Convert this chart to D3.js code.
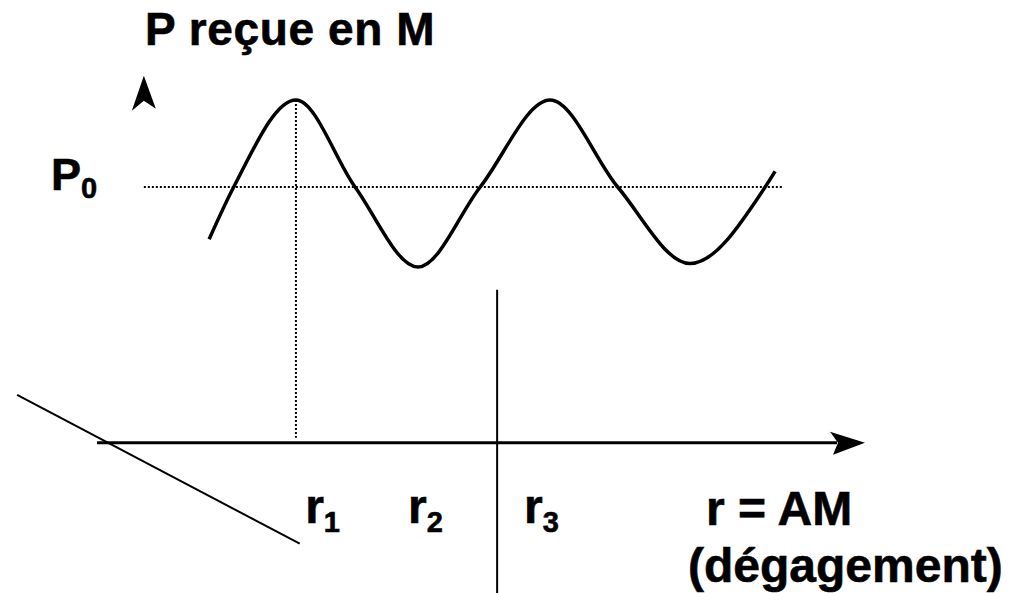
<!DOCTYPE html>
<html>
<head>
<meta charset="utf-8">
<script src="https://cdn.jsdelivr.net/npm/d3@7"></script>
<style>
  body { margin: 0; background: #fff; }
  svg { display: block; }
  text { font-family: "Liberation Sans", Arial, sans-serif; font-weight: bold; fill: #000; stroke: #000; stroke-width: 0.6px; }
</style>
</head>
<body>
<svg id="chart" width="1019" height="593"></svg>
<script>
// curve of received power along r (schematic units)
var curveR = [1.46, 1.78, 2.59, 3.36, 4.18, 4.99, 5.90, 6.78, 7.72, 8.70, 8.83];
var curveP = [0.70, 1.00, 1.50, 1.00, 0.54, 1.00, 1.50, 1.00, 0.56, 1.00, 1.09];

var p0 = 1.0;
var p0Range = [0.61, 8.93];
var rAxisP = -0.47;
var rAxisRange = [0, 10];
var r1 = 2.59;
var r3Line = 5.21;
var r3LineTop = 0.41;
var yArrowR = 0.61, yArrowP = 1.64;
var slantR = [-1.04, 2.64];
var slantP = [-0.195, -1.05];

var rLabels = [
  { name: "r", sub: "1", r: 2.71 },
  { name: "r", sub: "2", r: 4.05 },
  { name: "r", sub: "3", r: 5.56 }
];

function drawChart() {
  let chart = d3.select("#chart"),
      width = +chart.attr("width"),
      height = +chart.attr("height");

  let x = d3.scaleLinear().domain([0, 10]).range([97, 865]);
  let y = d3.scaleLinear().domain([0, 2]).range([361, 13]);

  let data = curveR.map((r, i) => ({ r: r, p: curveP[i] }));

  // dotted reference lines
  chart.append("line")
    .attr("x1", x(p0Range[0])).attr("x2", x(p0Range[1]))
    .attr("y1", y(p0)).attr("y2", y(p0))
    .style("stroke", "#000").style("stroke-width", 2)
    .style("stroke-dasharray", "2,2");

  chart.append("line")
    .attr("x1", x(r1)).attr("x2", x(r1))
    .attr("y1", y(1.5)).attr("y2", y(rAxisP) - 5)
    .style("stroke", "#000").style("stroke-width", 2)
    .style("stroke-dasharray", "2,2");

  // the wave
  let line = d3.line()
    .x(d => x(d.r))
    .y(d => y(d.p))
    .curve(d3.curveMonotoneX);

  chart.append("path")
    .datum(data)
    .attr("d", line)
    .style("fill", "none")
    .style("stroke", "#000")
    .style("stroke-width", 3.5)
    .style("stroke-linecap", "butt");

  // r axis with arrowhead
  let ax = y(rAxisP);
  chart.append("line")
    .attr("x1", x(rAxisRange[0])).attr("x2", x(rAxisRange[1]) - 28)
    .attr("y1", ax).attr("y2", ax)
    .style("stroke", "#000").style("stroke-width", 3);

  let tipX = x(rAxisRange[1]);
  chart.append("path")
    .attr("d", "M" + tipX + "," + ax +
      "L" + (tipX - 35) + "," + (ax - 11) +
      "L" + (tipX - 27) + "," + ax +
      "L" + (tipX - 32) + "," + (ax + 12) + "Z")
    .style("fill", "#000");

  // lone arrowhead of the power axis
  let ux = x(yArrowR), uy = y(yArrowP);
  chart.append("path")
    .attr("d", "M" + ux + "," + uy +
      "L" + (ux + 12) + "," + (uy + 33) +
      "L" + (ux) + "," + (uy + 25) +
      "L" + (ux - 12) + "," + (uy + 35) + "Z")
    .style("fill", "#000");

  // solid vertical line
  chart.append("line")
    .attr("x1", x(r3Line)).attr("x2", x(r3Line))
    .attr("y1", y(r3LineTop)).attr("y2", height)
    .style("stroke", "#000").style("stroke-width", 2);

  // slanted line
  chart.append("line")
    .attr("x1", x(slantR[0])).attr("y1", y(slantP[0]))
    .attr("x2", x(slantR[1])).attr("y2", y(slantP[1]))
    .style("stroke", "#000").style("stroke-width", 2);

  // texts
  chart.append("text")
    .attr("x", 145).attr("y", 45)
    .style("font-size", "46px")
    .style("letter-spacing", "0.6px")
    .text("P reçue en M");

  let p0Label = chart.append("text")
    .attr("x", 51).attr("y", 190)
    .style("font-size", "45px");
  p0Label.append("tspan").text("P");
  p0Label.append("tspan").attr("dy", 8).style("font-size", "29px").text("0");

  rLabels.forEach(function (d) {
    let t = chart.append("text")
      .attr("x", x(d.r)).attr("y", 523)
      .style("font-size", "48px");
    t.append("tspan").text(d.name);
    t.append("tspan").attr("dy", 9).style("font-size", "29px").text(d.sub);
  });

  chart.append("text")
    .attr("x", 706).attr("y", 525)
    .style("font-size", "48px")
    .text("r = AM");

  chart.append("text")
    .attr("x", 688).attr("y", 582)
    .style("font-size", "48px")
    .text("(dégagement)");
}

drawChart();
</script>
</body>
</html>
